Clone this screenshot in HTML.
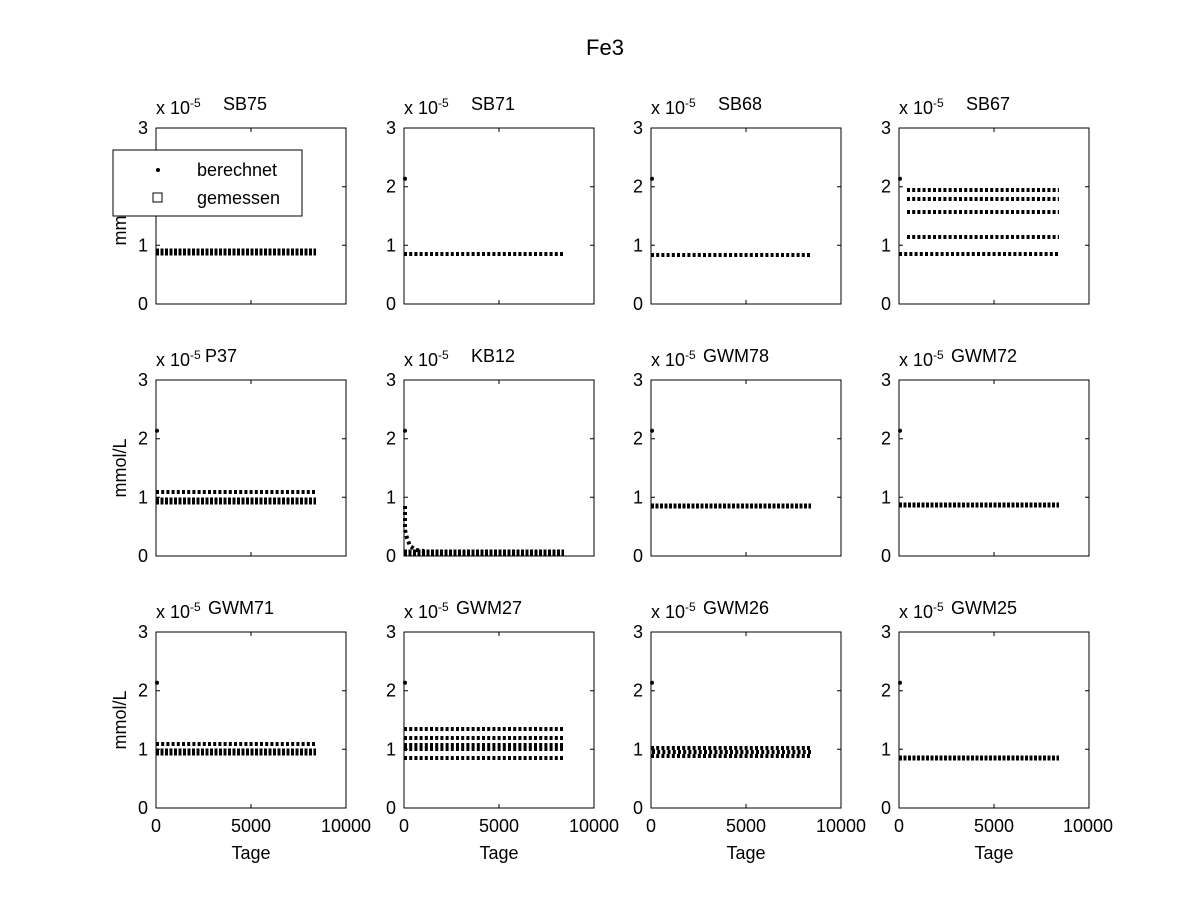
<!DOCTYPE html>
<html><head><meta charset="utf-8"><style>
body{margin:0;background:#fff}
svg{display:block;font-family:"Liberation Sans",sans-serif}
.ax{fill:none;stroke:#000;stroke-width:1}
.d{stroke:#000;stroke-width:4;stroke-dasharray:3 2.2;fill:none}
.b{stroke:#000;stroke-width:7;stroke-dasharray:3 1.5;fill:none}
text{font-size:18px;fill:#000}
</style></head><body>
<svg width="1201" height="901" viewBox="0 0 1201 901">
<rect width="1201" height="901" fill="#fff"/>
<text x="605" y="55" text-anchor="middle" style="font-size:22px">Fe3</text>
<defs>
<g id="frame">
<rect class="ax" x="0" y="0" width="190" height="176"/>
<path class="ax" d="M0,117.3h4M0,58.7h4M190,117.3h-4M190,58.7h-4M95,176v-4M95,0v4"/>
<text x="-8" y="182" text-anchor="end">0</text>
<text x="-8" y="123.3" text-anchor="end">1</text>
<text x="-8" y="64.7" text-anchor="end">2</text>
<text x="-8" y="6" text-anchor="end">3</text>
<circle cx="1" cy="50.8" r="2"/>
</g>
</defs>

<!-- Row 1 -->
<g transform="translate(156,128)">
<use href="#frame"/>
<text x="0" y="-14">x 10<tspan dy="-7" style="font-size:12px">-5</tspan></text>
<text x="67" y="-18">SB75</text>
<line class="b" x1="0" x2="160" y1="124" y2="124"/>
</g>
<g transform="translate(404,128)">
<use href="#frame"/>
<text x="0" y="-14">x 10<tspan dy="-7" style="font-size:12px">-5</tspan></text>
<text x="67" y="-18">SB71</text>
<line class="d" x1="0" x2="160" y1="126" y2="126"/>
</g>
<g transform="translate(651,128)">
<use href="#frame"/>
<text x="0" y="-14">x 10<tspan dy="-7" style="font-size:12px">-5</tspan></text>
<text x="67" y="-18">SB68</text>
<line class="d" x1="0" x2="160" y1="127" y2="127"/>
</g>
<g transform="translate(899,128)">
<use href="#frame"/>
<text x="0" y="-14">x 10<tspan dy="-7" style="font-size:12px">-5</tspan></text>
<text x="67" y="-18">SB67</text>
<line class="d" x1="8" x2="160" y1="62" y2="62"/>
<line class="d" x1="8" x2="160" y1="71" y2="71"/>
<line class="d" x1="8" x2="160" y1="84" y2="84"/>
<line class="d" x1="8" x2="160" y1="109" y2="109"/>
<line class="d" x1="0" x2="160" y1="126" y2="126"/>
</g>

<!-- Row 2 -->
<g transform="translate(156,380)">
<use href="#frame"/>
<text x="0" y="-14">x 10<tspan dy="-7" style="font-size:12px">-5</tspan></text>
<text x="49" y="-18">P37</text>
<line class="d" x1="0" x2="160" y1="112" y2="112"/>
<line class="b" x1="0" x2="160" y1="121" y2="121"/>
</g>
<g transform="translate(404,380)">
<use href="#frame"/>
<text x="0" y="-14">x 10<tspan dy="-7" style="font-size:12px">-5</tspan></text>
<text x="67" y="-18">KB12</text>
<path d="M1,126 L1,150 L3,158 L6,166 L12,170 L20,171" stroke="#000" stroke-width="4" fill="none" stroke-dasharray="3 3"/>
<line class="b" x1="0" x2="160" y1="173" y2="173"/>
</g>
<g transform="translate(651,380)">
<use href="#frame"/>
<text x="0" y="-14">x 10<tspan dy="-7" style="font-size:12px">-5</tspan></text>
<text x="52" y="-18">GWM78</text>
<line class="b" x1="0" x2="160" y1="126" y2="126" style="stroke-width:5"/>
</g>
<g transform="translate(899,380)">
<use href="#frame"/>
<text x="0" y="-14">x 10<tspan dy="-7" style="font-size:12px">-5</tspan></text>
<text x="52" y="-18">GWM72</text>
<line class="b" x1="0" x2="160" y1="125" y2="125" style="stroke-width:5"/>
</g>

<!-- Row 3 -->
<g transform="translate(156,632)">
<use href="#frame"/>
<text x="0" y="-14">x 10<tspan dy="-7" style="font-size:12px">-5</tspan></text>
<text x="52" y="-18">GWM71</text>
<line class="d" x1="0" x2="160" y1="112" y2="112"/>
<line class="b" x1="0" x2="160" y1="120" y2="120"/>
</g>
<g transform="translate(404,632)">
<use href="#frame"/>
<text x="0" y="-14">x 10<tspan dy="-7" style="font-size:12px">-5</tspan></text>
<text x="52" y="-18">GWM27</text>
<line class="d" x1="0" x2="160" y1="97" y2="97"/>
<line class="d" x1="0" x2="160" y1="106" y2="106"/>
<line class="d" x1="0" x2="160" y1="113" y2="113"/>
<line class="d" x1="0" x2="160" y1="117" y2="117"/>
<line class="d" x1="0" x2="160" y1="126" y2="126"/>
</g>
<g transform="translate(651,632)">
<use href="#frame"/>
<text x="0" y="-14">x 10<tspan dy="-7" style="font-size:12px">-5</tspan></text>
<text x="52" y="-18">GWM26</text>
<line class="d" x1="0" x2="160" y1="116" y2="116"/>
<line class="d" x1="1" x2="160" y1="120" y2="120"/>
<line class="d" x1="0" x2="160" y1="124" y2="124"/>
</g>
<g transform="translate(899,632)">
<use href="#frame"/>
<text x="0" y="-14">x 10<tspan dy="-7" style="font-size:12px">-5</tspan></text>
<text x="52" y="-18">GWM25</text>
<line class="b" x1="0" x2="160" y1="126" y2="126" style="stroke-width:5"/>
</g>

<!-- x tick labels -->
<g text-anchor="middle">
<text x="156" y="832">0</text><text x="251" y="832">5000</text><text x="346" y="832">10000</text>
<text x="404" y="832">0</text><text x="499" y="832">5000</text><text x="594" y="832">10000</text>
<text x="651" y="832">0</text><text x="746" y="832">5000</text><text x="841" y="832">10000</text>
<text x="899" y="832">0</text><text x="994" y="832">5000</text><text x="1088" y="832">10000</text>
<text x="251" y="859">Tage</text><text x="499" y="859">Tage</text><text x="746" y="859">Tage</text><text x="994" y="859">Tage</text>
</g>
<!-- y labels -->
<text transform="translate(126,216) rotate(-90)" text-anchor="middle">mmol/L</text>
<text transform="translate(126,468) rotate(-90)" text-anchor="middle">mmol/L</text>
<text transform="translate(126,720) rotate(-90)" text-anchor="middle">mmol/L</text>

<!-- legend -->
<rect x="113" y="150" width="189" height="66" fill="#fff" stroke="#000"/>
<circle cx="158" cy="170" r="2"/>
<rect x="153" y="193" width="9" height="9" fill="none" stroke="#000"/>
<text x="197" y="176">berechnet</text>
<text x="197" y="204">gemessen</text>
</svg>
</body></html>
